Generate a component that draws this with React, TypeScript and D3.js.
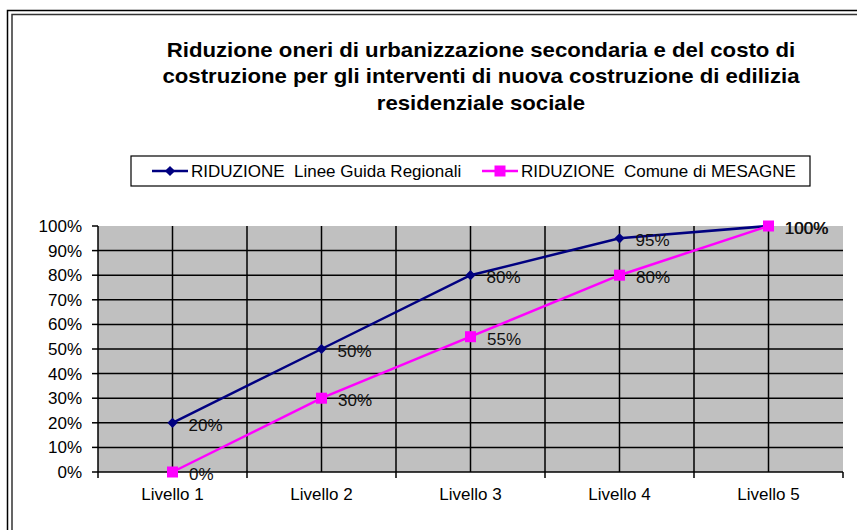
import React from "react";
import * as d3 from "d3";

const categories = ["Livello 1", "Livello 2", "Livello 3", "Livello 4", "Livello 5"];
const seriesRegionali = [20, 50, 80, 95, 100];
const seriesMesagne = [0, 30, 55, 80, 100];
const yTicks = [0, 10, 20, 30, 40, 50, 60, 70, 80, 90, 100];
const titleLines = [
  "Riduzione oneri di urbanizzazione secondaria e del costo di",
  "costruzione per gli interventi di nuova costruzione di edilizia",
  "residenziale sociale",
];
const legendLabels = ["RIDUZIONE  Linee Guida Regionali", "RIDUZIONE  Comune di MESAGNE"];

const W = 857;
const H = 530;
const plot = { left: 98, right: 843, top: 226, bottom: 472 };
const FONT = "'Liberation Sans', Arial, sans-serif";
const FS = 17;

export default function App() {
  const x = d3.scaleBand<string>().domain(categories).range([plot.left, plot.right]);
  const y = d3.scaleLinear().domain([0, 100]).range([plot.bottom, plot.top]);
  const cx = (c: string) => (x(c) as number) + x.bandwidth() / 2;
  const line = d3
    .line<number>()
    .x((_, i) => cx(categories[i]))
    .y((d) => y(d));
  const diamond = d3.symbol(d3.symbolSquare, 52)() as string;

  const halfLines: number[] = [];
  categories.forEach((c, i) => {
    halfLines.push(cx(c));
    if (i > 0) halfLines.push(x(c) as number);
  });
  const boundaries = categories.map((c) => x(c) as number).concat([plot.right]);

  return (
    <svg
      width={W}
      height={H}
      style={{ position: "absolute", left: 0, top: 0, background: "#fff" }}
      fontFamily={FONT}
    >
      {/* outer double frame */}
      <path d={`M7.5,${H + 5} V10.5 H${W + 5}`} fill="none" stroke="#000" strokeWidth={1.5} />
      <path d={`M12,${H + 5} V14.5 H${W + 5}`} fill="none" stroke="#333" strokeWidth={1.5} />

      {/* title */}
      <g transform="translate(481,0) scale(1.11,1)">
        {titleLines.map((t, i) => (
          <text
            key={i}
            x={0}
            y={57 + i * 26.5}
            textAnchor="middle"
            fontWeight="bold"
            fontSize={20}
            fill="#000"
          >
            {t}
          </text>
        ))}
      </g>

      {/* legend */}
      <rect x={131} y={156} width={679} height={30} fill="#fff" stroke="#000" strokeWidth={1.2} />
      <line x1={152} x2={188} y1={171} y2={171} stroke="#000080" strokeWidth={2.5} />
      <path d={diamond} transform="translate(170,171) rotate(45)" fill="#000080" />
      <text x={191} y={177} fontSize={FS} fill="#000" style={{ whiteSpace: "pre" }}>
        {legendLabels[0]}
      </text>
      <line x1={482} x2={518} y1={171} y2={171} stroke="#FF00FF" strokeWidth={2.5} />
      <rect x={494.5} y={165.5} width={11} height={11} fill="#FF00FF" />
      <text x={521} y={177} fontSize={FS} fill="#000" style={{ whiteSpace: "pre" }}>
        {legendLabels[1]}
      </text>

      {/* plot area */}
      <rect
        x={plot.left}
        y={plot.top}
        width={plot.right - plot.left}
        height={plot.bottom - plot.top}
        fill="#C0C0C0"
      />
      {yTicks
        .filter((t) => t > 0 && t < 100)
        .map((t) => (
          <line key={t} x1={plot.left} x2={plot.right} y1={y(t)} y2={y(t)} stroke="#000" strokeWidth={1.5} />
        ))}
      {halfLines.map((hx, i) => (
        <line key={i} x1={hx} x2={hx} y1={plot.top} y2={plot.bottom} stroke="#000" strokeWidth={1.5} />
      ))}
      {/* axes */}
      <line x1={plot.left} x2={plot.left} y1={plot.top} y2={plot.bottom} stroke="#000" strokeWidth={1.5} />
      <line x1={plot.left} x2={plot.right} y1={plot.bottom} y2={plot.bottom} stroke="#000" strokeWidth={1.5} />
      {yTicks.map((t) => (
        <g key={t}>
          <line x1={plot.left - 6} x2={plot.left} y1={y(t)} y2={y(t)} stroke="#000" strokeWidth={1.5} />
          <text x={82} y={y(t) + 6} textAnchor="end" fontSize={FS} fill="#000">
            {t}%
          </text>
        </g>
      ))}
      {boundaries.map((bx, i) => (
        <line key={i} x1={bx} x2={bx} y1={plot.bottom} y2={plot.bottom + 6} stroke="#000" strokeWidth={1.5} />
      ))}
      {categories.map((c) => (
        <text key={c} x={cx(c)} y={500} textAnchor="middle" fontSize={FS} fill="#000">
          {c}
        </text>
      ))}

      {/* series */}
      <path d={line(seriesRegionali) as string} fill="none" stroke="#000080" strokeWidth={2.5} />
      <path d={line(seriesMesagne) as string} fill="none" stroke="#FF00FF" strokeWidth={2.5} />
      {seriesRegionali.map((v, i) => (
        <path
          key={i}
          d={diamond}
          transform={`translate(${cx(categories[i])},${y(v)}) rotate(45)`}
          fill="#000080"
        />
      ))}
      {seriesMesagne.map((v, i) => (
        <rect key={i} x={cx(categories[i]) - 5.5} y={y(v) - 5.5} width={11} height={11} fill="#FF00FF" />
      ))}
      {seriesRegionali.map((v, i) => (
        <text key={i} x={cx(categories[i]) + 16} y={y(v) + 8} fontSize={FS} fill="#111">
          {v}%
        </text>
      ))}
      {seriesMesagne.map((v, i) => (
        <text key={i} x={cx(categories[i]) + 16.6} y={y(v) + 8} fontSize={FS} fill="#111">
          {v}%
        </text>
      ))}
    </svg>
  );
}
